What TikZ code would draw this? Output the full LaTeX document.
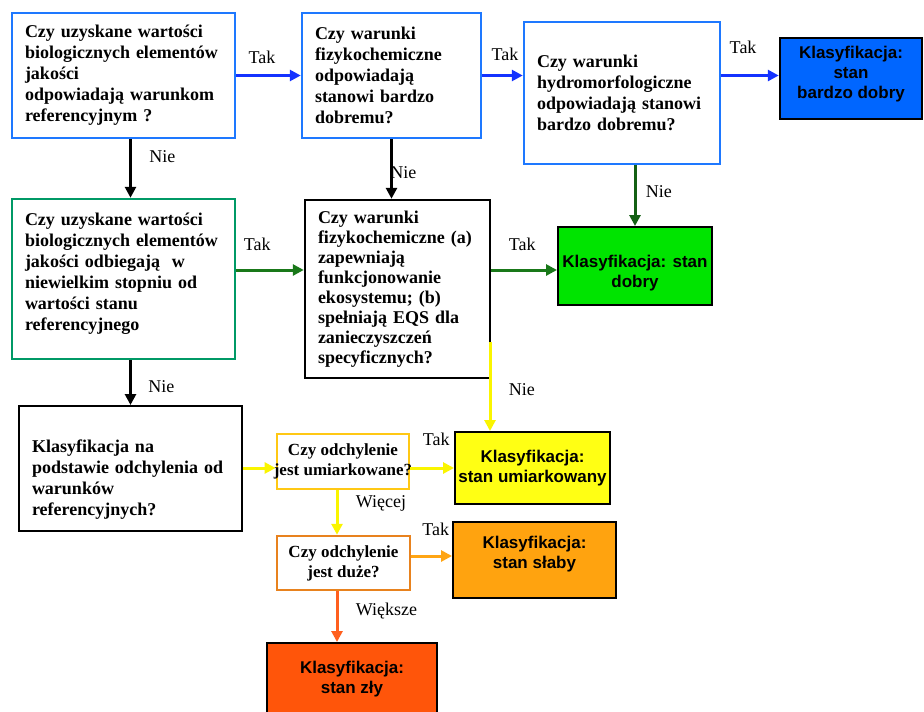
\documentclass[tikz,border=0pt]{standalone}
\usepackage{fontspec}
\setmainfont{Liberation Serif}
\setsansfont{Liberation Sans}
\usetikzlibrary{arrows.meta}
\definecolor{bluln}{RGB}{30,120,255}
\definecolor{bluarr}{RGB}{20,50,255}
\definecolor{blufill}{RGB}{0,102,255}
\definecolor{tealln}{RGB}{0,153,102}
\definecolor{grnarr}{RGB}{25,120,25}
\definecolor{grnfill}{RGB}{0,228,0}
\definecolor{ylwarr}{RGB}{250,245,0}
\definecolor{ylwfill}{RGB}{255,255,20}
\definecolor{goldln}{RGB}{255,200,20}
\definecolor{orgln}{RGB}{232,130,30}
\definecolor{orgarr}{RGB}{255,165,20}
\definecolor{orgfill}{RGB}{255,163,15}
\definecolor{redfill}{RGB}{255,85,10}
\definecolor{redarr}{RGB}{255,95,30}
\newcommand{\qfont}{\bfseries\fontsize{18}{21}\selectfont}
\newcommand{\kfont}{\sffamily\bfseries\fontsize{17}{20}\selectfont}
\newcommand{\lfont}{\fontsize{18}{20}\selectfont}

\begin{document}
\begin{tikzpicture}[x=1pt,y=-1pt,
  qbox/.style={draw,line width=2.5pt,fill=white,align=left,font=\qfont,inner xsep=13pt},
  sbox/.style={draw,line width=2.5pt,fill=white,align=center,inner xsep=-3pt,
    font=\bfseries\fontsize{17}{20}\selectfont},
  clsbox/.style={draw=black,line width=2pt,align=center,font=\kfont},
  conn/.style={line width=3pt,-{Triangle[length=11pt,width=11pt]}},
  lbl/.style={font=\lfont}]
\useasboundingbox (0,0) rectangle (924,712);

% pytania - rzad gorny
\node[qbox,draw=bluln,text width=197pt,minimum height=125pt] (bioref) at (123.5,75.5)
  {Czy uzyskane wartości\\biologicznych elementów\\jakości\\odpowiadają warunkom\\referencyjnym ?};
\node[qbox,draw=bluln,text width=153pt,minimum height=125pt] (fizbd) at (391.5,75.5)
  {Czy warunki\\fizykochemiczne\\odpowiadają\\stanowi bardzo\\dobremu?};
\node[qbox,draw=bluln,text width=170pt,minimum height=142pt] (hydro) at (622,93)
  {Czy warunki\\hydromorfologiczne\\odpowiadają stanowi\\bardzo dobremu?};
\node[clsbox,fill=blufill,line width=2.5pt,minimum width=142pt,minimum height=81pt,text depth=12pt] (bdobry) at (851,78.5)
  {Klasyfikacja:\\stan\\bardzo dobry};

% rzad srodkowy
\node[qbox,draw=tealln,text width=197pt,minimum height=160pt,text depth=120pt] (biomale) at (123.5,279)
  {Czy uzyskane wartości\\biologicznych elementów\\jakości odbiegają~ w\\niewielkim stopniu od\\wartości stanu\\referencyjnego};
\node[qbox,draw=black,text width=159pt,minimum height=178pt,font=\bfseries\fontsize{18}{20}\selectfont] (fizeco) at (397.5,289)
  {Czy warunki\\fizykochemiczne (a)\\zapewniają\\funkcjonowanie\\ekosystemu; (b)\\spełniają EQS dla\\zanieczyszczeń\\specyficznych?};
\node[clsbox,fill=grnfill,minimum width=154pt,minimum height=78pt,text height=46pt] (dobry) at (635,266)
  {Klasyfikacja: stan\\dobry};

% rzad dolny
\node[qbox,draw=black,line width=2pt,text width=197pt,minimum height=125pt,text depth=45pt] (odchyl) at (130.5,468.5)
  {Klasyfikacja na\\podstawie odchylenia od\\warunków\\referencyjnych?};
\node[sbox,draw=goldln,minimum width=132pt,minimum height=55pt] (umiark) at (343,461.5)
  {Czy odchylenie\\jest umiarkowane?};
\node[clsbox,fill=ylwfill,minimum width=155pt,minimum height=72pt] (umiarkowany) at (532.5,468)
  {Klasyfikacja:\\stan umiarkowany};
\node[sbox,draw=orgln,minimum width=133pt,minimum height=54pt] (duze) at (343.5,563)
  {Czy odchylenie\\jest duże?};
\node[clsbox,fill=orgfill,minimum width=163pt,minimum height=76pt,text depth=16pt] (slaby) at (534.5,560)
  {Klasyfikacja:\\stan słaby};
\node[clsbox,fill=redfill,minimum width=170pt,minimum height=73pt] (zly) at (352,679.5)
  {Klasyfikacja:\\stan zły};

\coordinate (rzad2) at (0,270);
\coordinate (rzad4) at (0,556);
\coordinate (fiznie) at (490,342);
\coordinate (kol) at (337,0);

% strzalki
\draw[conn,bluarr] (bioref) -- (fizbd) node[lbl,pos=0.4,above=7pt,text=black] (t1) {Tak};
\draw[conn,bluarr] (fizbd.east) -- (fizbd.east -| hydro.west) node[lbl,pos=0.56,above=10pt,text=black] (t2) {Tak};
\draw[conn,bluarr] (hydro.east |- fizbd.east) -- (fizbd.east -| bdobry.west) node[lbl,pos=0.38,above=17pt,text=black] (t3) {Tak};
\draw[conn,black] (bioref.south -| odchyl.north) -- (biomale.north -| odchyl.north) node[lbl,pos=0.3,right=14pt] (n1) {Nie};
\draw[conn,black] (fizbd.south) -- (fizbd.south |- fizeco.north) node[lbl,pos=0.56,right=-6pt] (n2) {Nie};
\draw[conn,grnarr!80!black] (hydro.south -| dobry.north) -- (dobry.north) node[lbl,pos=0.43,right=6pt,text=black] (n3) {Nie};
\draw[conn,grnarr] (biomale.east |- rzad2) -- (fizeco.west |- rzad2) node[lbl,pos=0.31,above=14pt,text=black] (t4) {Tak};
\draw[conn,grnarr] (fizeco.east |- rzad2) -- (dobry.west |- rzad2) node[lbl,pos=0.47,above=14pt,text=black] (t5) {Tak};
\draw[conn,black] (biomale.south -| odchyl.north) -- (odchyl.north) node[lbl,pos=0.6,right=13pt] (n4) {Nie};
\draw[conn,ylwarr] (fiznie) -- (fiznie |- umiarkowany.north) node[lbl,pos=0.53,right=14pt,text=black] (n5) {Nie};
\draw[conn,ylwarr] (odchyl.east |- umiarkowany) -- (umiark.west |- umiarkowany);
\draw[conn,ylwarr] (umiark.east |- umiarkowany) -- (umiarkowany.west) node[lbl,pos=0.59,above=17pt,text=black] (t6) {Tak};
\draw[conn,ylwarr] (umiark.south -| kol) -- (duze.north -| kol) node[lbl,pos=0.3,right=14pt,text=black] (w1) {Więcej};
\draw[conn,orgarr] (duze.east |- rzad4) -- (slaby.west |- rzad4) node[lbl,pos=0.6,above=15pt,text=black] (t7) {Tak};
\draw[conn,redarr] (duze.south -| kol) -- (zly.north -| kol) node[lbl,pos=0.38,right=14pt,text=black] (w2) {Większe};
\end{tikzpicture}
\end{document}
